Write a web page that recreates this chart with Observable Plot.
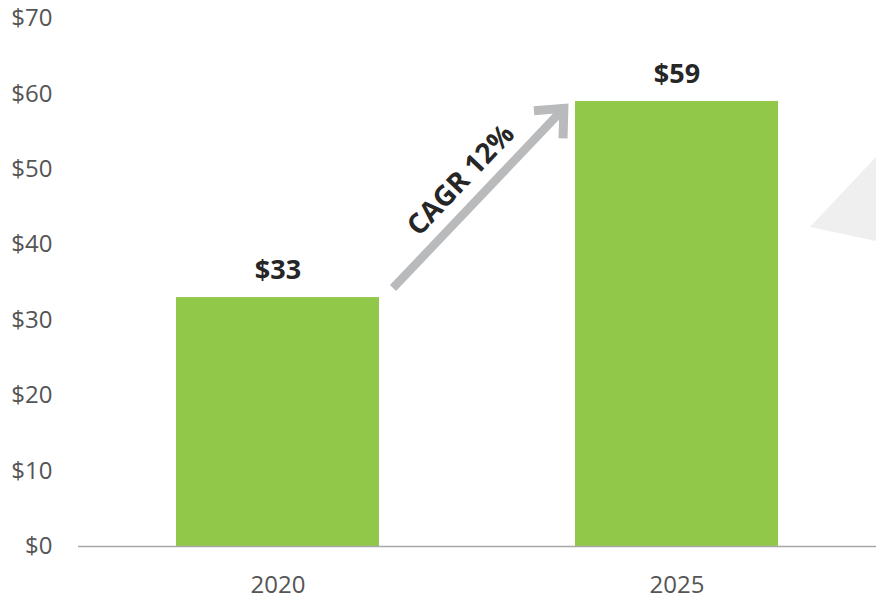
<!DOCTYPE html>
<html><head><meta charset="utf-8">
<script src="https://cdn.jsdelivr.net/npm/d3@7"></script>
<script src="https://cdn.jsdelivr.net/npm/@observablehq/plot@0.6"></script>
<style>body{margin:0;background:#fff} #chart{width:876px;height:600px}</style>
</head><body><div id="chart"></div>
<script>
const years = ["2020", "2025"];
const values = [33, 59];
const valueLabels = ["$33", "$59"];
const yTicks = [0, 10, 20, 30, 40, 50, 60, 70];
const cagrLabel = "CAGR 12%";
const cagrFrom = 34.2;   // y value where the CAGR arrow starts
const cagrTo = 58.6;     // y value where the CAGR arrow ends

const data = years.map((y, i) => ({year: y, value: values[i], label: valueLabels[i]}));

const plot = Plot.plot({
  width: 876, height: 600,
  marginLeft: 78, marginRight: 0, marginTop: 18, marginBottom: 54,
  style: {fontFamily: "'Open Sans', sans-serif", fontSize: "24px", color: "#555", background: "#fff", overflow: "visible"},
  x: {domain: years, paddingInner: 0.49, paddingOuter: 0.245, label: null, tickSize: 0, tickPadding: 29},
  y: {domain: [0, 70], ticks: yTicks, tickFormat: d => "$" + d, label: null, tickSize: 0, tickPadding: 26},
  marks: [
    Plot.barY(data, {x: "year", y: "value", fill: "#92c84a"}),
    Plot.ruleY([0], {stroke: "#a8a8a8", strokeWidth: 1.3}),
    Plot.text(data, {x: "year", y: "value", text: "label", dy: -27, fontSize: 27, fontWeight: "bold", fill: "#262626"})
  ]
});
document.getElementById("chart").appendChild(plot);

// Annotation overlay, positioned through the plot's own scales
const xs = plot.scale("x"), ys = plot.scale("y");
const svg = d3.select(plot);
const W = 876;
// decorative light-gray shape at right edge
svg.insert("path", "g").attr("d", `M${W - 66},227 L${W},157 L${W},241 Z`).attr("fill", "#efefef");

const ax0 = xs.apply("2020") + xs.bandwidth + 14;
const ax1 = xs.apply("2025") - 7;
const ay0 = ys.apply(cagrFrom), ay1 = ys.apply(cagrTo);
const len = Math.hypot(ax1 - ax0, ay1 - ay0);
const ux = (ax1 - ax0) / len, uy = (ay1 - ay0) / len;
const apexX = ax1 - ux * 6, apexY = ay1 - uy * 6;
const g = svg.append("g");
const col = "#b9babc";
g.append("line").attr("x1", ax0).attr("y1", ay0).attr("x2", apexX - ux * 3).attr("y2", apexY - uy * 3)
  .attr("stroke", col).attr("stroke-width", 8.5);
const wing = 30, ang = 42 * Math.PI / 180;
function rot(x, y, a) { return [x * Math.cos(a) - y * Math.sin(a), x * Math.sin(a) + y * Math.cos(a)]; }
const [w1x, w1y] = rot(-ux, -uy, ang), [w2x, w2y] = rot(-ux, -uy, -ang);
g.append("path").attr("d", `M${apexX + w1x * wing},${apexY + w1y * wing} L${apexX},${apexY} L${apexX + w2x * wing},${apexY + w2y * wing}`)
  .attr("fill", "none").attr("stroke", col).attr("stroke-width", 9).attr("stroke-linejoin", "miter");

const angleDeg = Math.atan2(ay1 - ay0, ax1 - ax0) * 180 / Math.PI;
const mx = (ax0 + ax1) / 2, my = (ay0 + ay1) / 2;
const nx = uy, ny = -ux; // perpendicular (up-left)
const tx = mx + nx * 26 - ux * 2, ty = my + ny * 26 - uy * 2;
g.append("text").attr("transform", `translate(${tx},${ty}) rotate(${angleDeg})`)
  .attr("text-anchor", "middle").attr("dy", "0.35em")
  .attr("font-size", 28).attr("font-weight", "bold").attr("fill", "#262626")
  .text(cagrLabel);
</script>
</body></html>
